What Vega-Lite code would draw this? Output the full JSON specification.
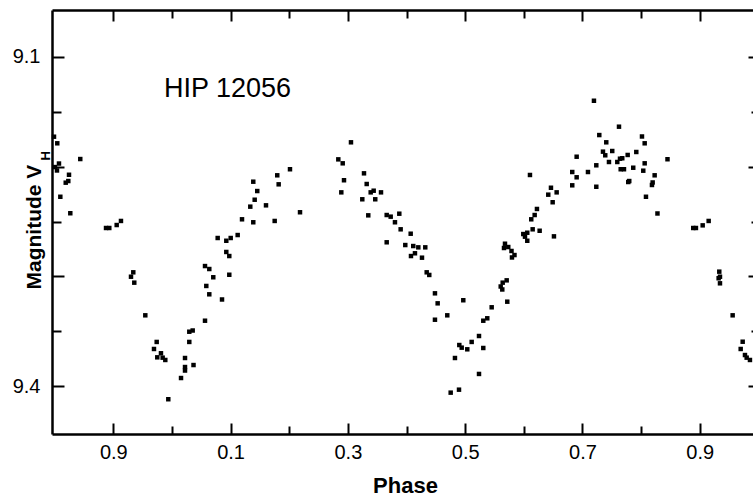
{
  "$schema": "https://vega.github.io/schema/vega-lite/v6.json",
  "autosize": {"type": "none"},
  "padding": {"left": 52, "top": 10, "right": 0, "bottom": 64},
  "width": 701,
  "height": 424,
  "background": "white",
  "config": {
    "view": {"stroke": null},
    "axis": {"grid": false, "tickColor": "black", "tickWidth": 2, "domainColor": "black", "domainWidth": 2.5, "labelColor": "black", "titleColor": "black", "labelFont": "Liberation Sans", "titleFont": "Liberation Sans", "labelFlush": false, "labelOverlap": false}
  },
  "data": {"values": [
    {"phase": -0.2011, "mag": 9.1729}, {"phase": -0.1955, "mag": 9.1789}, {"phase": -0.1994, "mag": 9.2005}, {"phase": -0.1926, "mag": 9.1973}, {"phase": -0.196, "mag": 9.2036},
    {"phase": -0.1563, "mag": 9.1932}, {"phase": -0.1755, "mag": 9.2075}, {"phase": -0.1811, "mag": 9.2147}, {"phase": -0.1767, "mag": 9.2132}, {"phase": -0.1903, "mag": 9.2275},
    {"phase": -0.1733, "mag": 9.2425}, {"phase": -0.1124, "mag": 9.2559}, {"phase": -0.1068, "mag": 9.2559}, {"phase": -0.0942, "mag": 9.2532}, {"phase": -0.0869, "mag": 9.2495},
    {"phase": -0.0698, "mag": 9.3002}, {"phase": -0.0659, "mag": 9.2962}, {"phase": -0.0642, "mag": 9.3056}, {"phase": -0.0454, "mag": 9.3353}, {"phase": -0.026, "mag": 9.3595},
    {"phase": -0.0306, "mag": 9.3659}, {"phase": -0.025, "mag": 9.3735}, {"phase": -0.0187, "mag": 9.3698}, {"phase": -0.0158, "mag": 9.3738}, {"phase": -0.0113, "mag": 9.3759},
    {"phase": -0.0062, "mag": 9.4116}, {"phase": 0.0155, "mag": 9.3923}, {"phase": 0.0223, "mag": 9.3741}, {"phase": 0.0223, "mag": 9.3823}, {"phase": 0.0223, "mag": 9.3855},
    {"phase": 0.0368, "mag": 9.3805}, {"phase": 0.0296, "mag": 9.3595}, {"phase": 0.0296, "mag": 9.3502}, {"phase": 0.0354, "mag": 9.3491}, {"phase": 0.0564, "mag": 9.3402},
    {"phase": 0.0586, "mag": 9.3086}, {"phase": 0.0637, "mag": 9.3162}, {"phase": 0.0854, "mag": 9.3209}, {"phase": 0.0564, "mag": 9.2905}, {"phase": 0.0637, "mag": 9.2932},
    {"phase": 0.0705, "mag": 9.3007}, {"phase": 0.0978, "mag": 9.2984}, {"phase": 0.0927, "mag": 9.2777}, {"phase": 0.0978, "mag": 9.2814}, {"phase": 0.078, "mag": 9.265},
    {"phase": 0.0927, "mag": 9.2675}, {"phase": 0.1002, "mag": 9.265}, {"phase": 0.1121, "mag": 9.2623}, {"phase": 0.1195, "mag": 9.248}, {"phase": 0.1387, "mag": 9.2507},
    {"phase": 0.1752, "mag": 9.2495}, {"phase": 0.1336, "mag": 9.2365}, {"phase": 0.1604, "mag": 9.2353}, {"phase": 0.1411, "mag": 9.2302}, {"phase": 0.1455, "mag": 9.2223},
    {"phase": 0.1387, "mag": 9.2138}, {"phase": 0.1796, "mag": 9.208}, {"phase": 0.182, "mag": 9.2162}, {"phase": 0.2013, "mag": 9.2025}, {"phase": 0.2184, "mag": 9.2416},
    {"phase": 0.2837, "mag": 9.1935}, {"phase": 0.2912, "mag": 9.1971}, {"phase": 0.3053, "mag": 9.178}, {"phase": 0.2934, "mag": 9.2125}, {"phase": 0.2888, "mag": 9.2235},
    {"phase": 0.3275, "mag": 9.2062}, {"phase": 0.3321, "mag": 9.2159}, {"phase": 0.3389, "mag": 9.2235}, {"phase": 0.344, "mag": 9.222}, {"phase": 0.3565, "mag": 9.2235},
    {"phase": 0.3246, "mag": 9.2298}, {"phase": 0.3467, "mag": 9.2298}, {"phase": 0.3348, "mag": 9.2444}, {"phase": 0.3662, "mag": 9.2441}, {"phase": 0.373, "mag": 9.2456},
    {"phase": 0.3877, "mag": 9.2429}, {"phase": 0.3803, "mag": 9.2507}, {"phase": 0.39, "mag": 9.2571}, {"phase": 0.4071, "mag": 9.2611}, {"phase": 0.3662, "mag": 9.2689},
    {"phase": 0.3979, "mag": 9.2714}, {"phase": 0.4115, "mag": 9.2723}, {"phase": 0.4201, "mag": 9.2735}, {"phase": 0.432, "mag": 9.2735}, {"phase": 0.4144, "mag": 9.2789},
    {"phase": 0.4076, "mag": 9.2814}, {"phase": 0.4264, "mag": 9.2829}, {"phase": 0.4344, "mag": 9.2962}, {"phase": 0.4388, "mag": 9.2986}, {"phase": 0.4485, "mag": 9.3153},
    {"phase": 0.4531, "mag": 9.3244}, {"phase": 0.4485, "mag": 9.3393}, {"phase": 0.4695, "mag": 9.3353}, {"phase": 0.4968, "mag": 9.3216}, {"phase": 0.4753, "mag": 9.4056},
    {"phase": 0.4895, "mag": 9.4029}, {"phase": 0.4826, "mag": 9.3741}, {"phase": 0.49, "mag": 9.3623}, {"phase": 0.4941, "mag": 9.3647}, {"phase": 0.5036, "mag": 9.3662},
    {"phase": 0.5111, "mag": 9.3595}, {"phase": 0.5236, "mag": 9.3541}, {"phase": 0.5309, "mag": 9.365}, {"phase": 0.5236, "mag": 9.3886}, {"phase": 0.5309, "mag": 9.3402},
    {"phase": 0.5377, "mag": 9.338}, {"phase": 0.5452, "mag": 9.328}, {"phase": 0.5718, "mag": 9.3229}, {"phase": 0.5606, "mag": 9.3091}, {"phase": 0.564, "mag": 9.3056},
    {"phase": 0.5708, "mag": 9.3035}, {"phase": 0.5633, "mag": 9.3118}, {"phase": 0.5679, "mag": 9.2702}, {"phase": 0.5662, "mag": 9.2741}, {"phase": 0.5735, "mag": 9.2732},
    {"phase": 0.579, "mag": 9.2768}, {"phase": 0.5841, "mag": 9.2805}, {"phase": 0.5798, "mag": 9.2827}, {"phase": 0.5991, "mag": 9.2614}, {"phase": 0.602, "mag": 9.2638},
    {"phase": 0.6059, "mag": 9.2675}, {"phase": 0.6059, "mag": 9.2602}, {"phase": 0.6151, "mag": 9.2571}, {"phase": 0.627, "mag": 9.2584}, {"phase": 0.6514, "mag": 9.2635},
    {"phase": 0.6127, "mag": 9.248}, {"phase": 0.6185, "mag": 9.2441}, {"phase": 0.6224, "mag": 9.2386}, {"phase": 0.6105, "mag": 9.2077}, {"phase": 0.6492, "mag": 9.2325},
    {"phase": 0.6463, "mag": 9.2193}, {"phase": 0.6417, "mag": 9.2256}, {"phase": 0.656, "mag": 9.2235}, {"phase": 0.6826, "mag": 9.205}, {"phase": 0.6901, "mag": 9.2098},
    {"phase": 0.6826, "mag": 9.2171}, {"phase": 0.6901, "mag": 9.1911}, {"phase": 0.7094, "mag": 9.205}, {"phase": 0.7236, "mag": 9.1989}, {"phase": 0.7236, "mag": 9.2184},
    {"phase": 0.7196, "mag": 9.1402}, {"phase": 0.7287, "mag": 9.1714}, {"phase": 0.735, "mag": 9.1865}, {"phase": 0.7389, "mag": 9.1898}, {"phase": 0.7406, "mag": 9.178},
    {"phase": 0.7452, "mag": 9.1959}, {"phase": 0.7508, "mag": 9.1859}, {"phase": 0.7594, "mag": 9.1959}, {"phase": 0.764, "mag": 9.1929}, {"phase": 0.7679, "mag": 9.1925},
    {"phase": 0.7623, "mag": 9.1638}, {"phase": 0.7652, "mag": 9.2025}, {"phase": 0.7708, "mag": 9.2025}, {"phase": 0.7771, "mag": 9.1895}, {"phase": 0.7781, "mag": 9.2141},
    {"phase": 0.7798, "mag": 9.2132}, {"phase": 0.7866, "mag": 9.2011}, {"phase": 0.7918, "mag": 9.1868}, {"phase": 0.8015, "mag": 9.1727}, {"phase": 0.8061, "mag": 9.1789},
    {"phase": 0.8061, "mag": 9.1971}, {"phase": 0.8037, "mag": 9.2038}, {"phase": 0.8083, "mag": 9.2275}, {"phase": 0.8197, "mag": 9.2145}, {"phase": 0.8185, "mag": 9.2168},
    {"phase": 0.8231, "mag": 9.208}, {"phase": 0.8279, "mag": 9.2427}, {"phase": 0.845, "mag": 9.1934}, {"phase": 0.8889, "mag": 9.2559}, {"phase": 0.8935, "mag": 9.2559},
    {"phase": 0.905, "mag": 9.2535}, {"phase": 0.9152, "mag": 9.2495}, {"phase": 0.9333, "mag": 9.2956}, {"phase": 0.9345, "mag": 9.3002}, {"phase": 0.9322, "mag": 9.3016},
    {"phase": 0.9345, "mag": 9.3062}, {"phase": 0.9561, "mag": 9.3353}, {"phase": 0.9732, "mag": 9.3593}, {"phase": 0.9698, "mag": 9.3659}, {"phase": 0.9771, "mag": 9.3714},
    {"phase": 0.98, "mag": 9.3738}, {"phase": 0.9856, "mag": 9.3759}
  ]},
  "resolve": {"axis": {"x": "independent", "y": "independent"}},
  "layer": [
    {
      "mark": {"type": "square", "filled": true, "color": "black", "size": 20, "opacity": 1},
      "encoding": {
        "x": {"field": "phase", "type": "quantitative",
          "scale": {"domain": [-0.2045, 0.9908], "nice": false, "zero": false},
          "axis": {"orient": "bottom", "values": [-0.1, 0.1, 0.3, 0.5, 0.7, 0.9],
            "labelExpr": "format(datum.value < 0 ? datum.value + 1 : datum.value, '.1f')",
            "ticks": false, "tickSize": 0, "labelPadding": 24, "labelBaseline": "alphabetic", "labelFontSize": 20,
            "domain": true,
            "title": "Phase", "titleFontSize": 22, "titleFontWeight": "bold",
            "titleX": 353, "titleY": 58, "titleAlign": "center", "titleBaseline": "alphabetic"}},
        "y": {"field": "mag", "type": "quantitative",
          "scale": {"domain": [9.0577, 9.4432], "nice": false, "zero": false, "reverse": true},
          "axis": {"orient": "left", "values": [9.1, 9.4],
            "labelExpr": "format(datum.value, '.1f')",
            "ticks": false, "tickSize": 0, "labelPadding": 12, "labelFontSize": 20, "labelBaseline": "middle",
            "domain": true,
            "title": "Magnitude V", "titleFontSize": 21, "titleFontWeight": "bold", "titleAngle": -90,
            "titleX": -12, "titleY": 279, "titleAlign": "left", "titleBaseline": "alphabetic"}}
      }
    },
    {
      "mark": {"type": "square", "opacity": 0},
      "encoding": {
        "x": {"field": "phase", "type": "quantitative",
          "scale": {"domain": [-0.2045, 0.9908], "nice": false, "zero": false},
          "axis": {"orient": "top", "offset": -424, "values": [-0.1, 0.1, 0.3, 0.5, 0.7, 0.9], "labels": false, "domain": false, "tickSize": 11, "title": null}},
        "y": {"field": "mag", "type": "quantitative",
          "scale": {"domain": [9.0577, 9.4432], "nice": false, "zero": false, "reverse": true},
          "axis": {"orient": "right", "offset": -701, "values": [9.1, 9.2, 9.3, 9.4], "labels": false, "domain": false, "tickSize": 12,
            "title": "H", "titleFontSize": 13, "titleFontWeight": "bold", "titleAngle": -90,
            "titleX": -3, "titleY": 150, "titleAlign": "left", "titleBaseline": "alphabetic"}}
      }
    },
    {
      "mark": {"type": "square", "opacity": 0},
      "encoding": {
        "x": {"field": "phase", "type": "quantitative",
          "scale": {"domain": [-0.2045, 0.9908], "nice": false, "zero": false},
          "axis": {"orient": "top", "offset": -424, "values": [0, 0.2, 0.4, 0.6, 0.8], "labels": false, "domain": false, "tickSize": 8, "title": null}},
        "y": {"field": "mag", "type": "quantitative",
          "scale": {"domain": [9.0577, 9.4432], "nice": false, "zero": false, "reverse": true},
          "axis": {"orient": "right", "offset": -701, "values": [9.15, 9.25, 9.35], "labels": false, "domain": false, "tickSize": 9, "title": null}}
      }
    },
    {
      "mark": {"type": "square", "opacity": 0},
      "encoding": {
        "x": {"field": "phase", "type": "quantitative",
          "scale": {"domain": [-0.2045, 0.9908], "nice": false, "zero": false},
          "axis": {"orient": "bottom", "offset": -424, "values": [-0.1, 0.1, 0.3, 0.5, 0.7, 0.9], "labels": false, "domain": true, "tickSize": 11, "title": null}},
        "y": {"field": "mag", "type": "quantitative",
          "scale": {"domain": [9.0577, 9.4432], "nice": false, "zero": false, "reverse": true},
          "axis": {"orient": "left", "offset": -701, "values": [9.1, 9.2, 9.3, 9.4], "labels": false, "domain": false, "tickSize": 5, "title": null}}
      }
    },
    {
      "mark": {"type": "square", "opacity": 0},
      "encoding": {
        "x": {"field": "phase", "type": "quantitative",
          "scale": {"domain": [-0.2045, 0.9908], "nice": false, "zero": false},
          "axis": {"orient": "bottom", "offset": -424, "values": [0, 0.2, 0.4, 0.6, 0.8], "labels": false, "domain": false, "tickSize": 8, "title": null}},
        "y": {"field": "mag", "type": "quantitative",
          "scale": {"domain": [9.0577, 9.4432], "nice": false, "zero": false, "reverse": true},
          "axis": {"orient": "left", "offset": -701, "values": [9.15, 9.25, 9.35], "labels": false, "domain": false, "tickSize": 2, "title": null}}
      }
    },
    {
      "data": {"values": [{"label": "HIP 12056", "phase": -0.0135, "mag": 9.1368}]},
      "mark": {"type": "text", "align": "left", "baseline": "alphabetic", "font": "Liberation Sans", "fontSize": 27, "color": "black"},
      "encoding": {
        "x": {"field": "phase", "type": "quantitative", "scale": {"domain": [-0.2045, 0.9908], "nice": false, "zero": false}, "axis": null},
        "y": {"field": "mag", "type": "quantitative", "scale": {"domain": [9.0577, 9.4432], "nice": false, "zero": false, "reverse": true}, "axis": null},
        "text": {"field": "label", "type": "nominal"}
      }
    }
  ]
}
